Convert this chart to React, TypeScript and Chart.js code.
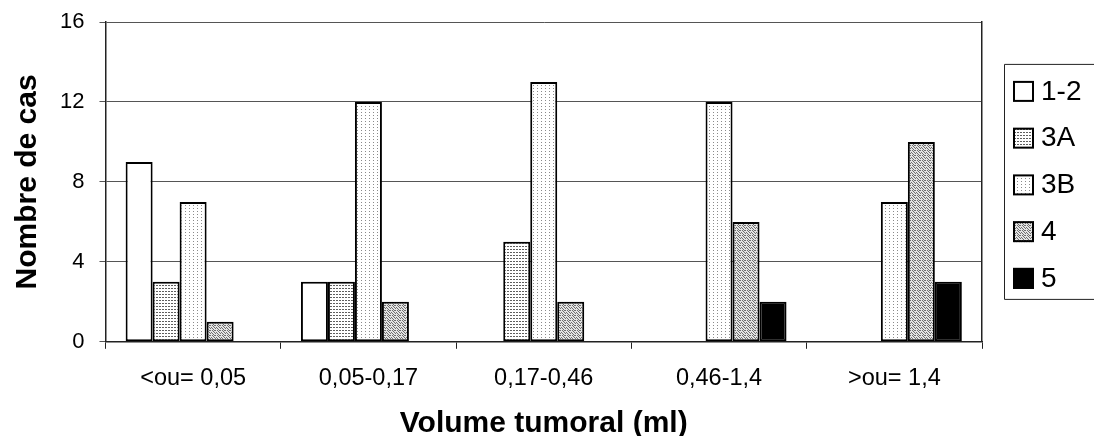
import React, { useEffect, useRef } from 'react';
import { Chart, registerables } from 'chart.js';

Chart.register(...registerables);

// ---- data ----
const categories = ['<ou= 0,05', '0,05-0,17', '0,17-0,46', '0,46-1,4', '>ou= 1,4'];
const seriesLabels = ['1-2', '3A', '3B', '4', '5'];
const grade12 = [9, 3, 0, 0, 0];
const grade3A = [3, 3, 5, 0, 0];
const grade3B = [7, 12, 13, 12, 7];
const grade4 = [1, 2, 2, 6, 10];
const grade5 = [0, 0, 0, 2, 3];
const yTicks = [0, 4, 8, 12, 16];
const xTitle = 'Volume tumoral (ml)';
const yTitle = 'Nombre de cas';

const FONT = '"Liberation Sans", Arial, sans-serif';

function makePattern(
  ctx: CanvasRenderingContext2D,
  w: number,
  h: number,
  bg: string,
  dots: Array<[number, number]>,
  dotColor: string
): CanvasPattern | string {
  const c = document.createElement('canvas');
  c.width = w;
  c.height = h;
  const g = c.getContext('2d');
  if (!g) return bg;
  g.fillStyle = bg;
  g.fillRect(0, 0, w, h);
  g.fillStyle = dotColor;
  for (const [x, y] of dots) g.fillRect(x, y, 1, 1);
  return ctx.createPattern(c, 'repeat') || bg;
}

const boxLegend = {
  id: 'boxLegend',
  afterDraw(chart: any) {
    const { ctx, chartArea } = chart;
    const mid = (chartArea.top + chartArea.bottom) / 2;
    const left = chartArea.right + 22;
    const top = mid - 118;
    const bottom = mid + 117;
    ctx.save();
    ctx.strokeStyle = '#222';
    ctx.lineWidth = 1;
    ctx.beginPath();
    ctx.moveTo(chart.width + 5, top + 0.5);
    ctx.lineTo(left + 0.5, top + 0.5);
    ctx.lineTo(left + 0.5, bottom + 0.5);
    ctx.lineTo(chart.width + 5, bottom + 0.5);
    ctx.stroke();
    const step = 46.75;
    const firstY = top + 27;
    chart.data.datasets.forEach((ds: any, i: number) => {
      const cy = firstY + i * step;
      ctx.fillStyle = ds.backgroundColor;
      ctx.fillRect(left + 9, cy - 10, 21, 21);
      ctx.lineWidth = 2;
      ctx.strokeStyle = '#000';
      ctx.strokeRect(left + 10, cy - 9, 19, 19);
      ctx.fillStyle = '#000';
      ctx.font = `28px ${FONT}`;
      ctx.textBaseline = 'middle';
      ctx.textAlign = 'left';
      ctx.fillText(ds.label, left + 37, cy + 1);
    });
    ctx.restore();
  },
};

export default function App() {
  const canvasRef = useRef<HTMLCanvasElement | null>(null);

  useEffect(() => {
    const canvas = canvasRef.current;
    if (!canvas) return;
    const ctx = canvas.getContext('2d');
    if (!ctx) return;

    const p3A = makePattern(ctx, 3, 3, '#ffffff', [[0, 0], [1, 0]], '#5e5e5e');
    const p3B = makePattern(ctx, 4, 3, '#ffffff', [[1, 1]], '#8a8a8a');
    const p4 = makePattern(
      ctx,
      5,
      5,
      '#e4e4e4',
      [[0, 0], [2, 0], [3, 1], [1, 2], [4, 2], [0, 3], [2, 3], [3, 4], [4, 0]],
      '#6e6e6e'
    );

    const series = [grade12, grade3A, grade3B, grade4, grade5];
    const fills: Array<CanvasPattern | string> = ['#ffffff', p3A, p3B, p4, '#000000'];

    const chart = new Chart(canvas, {
      type: 'bar',
      data: {
        labels: categories,
        datasets: series.map((d, i) => ({
          label: seriesLabels[i],
          data: d,
          backgroundColor: fills[i] as any,
          borderColor: '#000000',
          borderWidth: 2,
          borderSkipped: false,
          barPercentage: 1,
          categoryPercentage: 0.77,
        })),
      },
      options: {
        responsive: true,
        maintainAspectRatio: false,
        animation: false,
        layout: { padding: { top: 22, right: 112, bottom: 0, left: 0 } },
        plugins: {
          legend: { display: false },
          tooltip: { enabled: false },
          title: { display: false },
        },
        scales: {
          x: {
            grid: {
              display: true,
              drawOnChartArea: false,
              drawTicks: true,
              tickLength: 7,
              color: '#222',
              offset: true,
            },
            border: { display: true, color: '#222', width: 1.5 },
            ticks: {
              color: '#000',
              font: { family: FONT, size: 23.5 },
              padding: 16,
              maxRotation: 0,
            },
            title: {
              display: true,
              text: xTitle,
              color: '#000',
              font: { family: FONT, size: 30, weight: 'bold', lineHeight: 1 },
              padding: { top: 0, bottom: -3 },
            },
          },
          y: {
            min: 0,
            max: 16,
            afterBuildTicks: (scale: any) => {
              scale.ticks = yTicks.map((v) => ({ value: v }));
            },
            grid: {
              color: '#555',
              lineWidth: 1,
              tickLength: 6,
            },
            border: { display: true, color: '#222', width: 1.5 },
            ticks: {
              color: '#000',
              font: { family: FONT, size: 22, lineHeight: 0.6 },
              padding: 15,
            },
            title: {
              display: true,
              text: yTitle,
              color: '#000',
              font: { family: FONT, size: 30, weight: 'bold', lineHeight: 1 },
              padding: { top: 13, bottom: 2 },
            },
          },
          yRight: {
            position: 'right',
            min: 0,
            max: 16,
            grid: { display: false, drawTicks: false },
            ticks: { display: false },
            border: { display: true, color: '#222', width: 1.5 },
          },
        },
      },
      plugins: [boxLegend],
    } as any);

    return () => chart.destroy();
  }, []);

  return (
    <div
      style={{
        position: 'absolute',
        left: 0,
        top: 0,
        width: 1094,
        height: 436,
        background: '#ffffff',
        overflow: 'hidden',
      }}
    >
      <canvas ref={canvasRef} />
    </div>
  );
}
